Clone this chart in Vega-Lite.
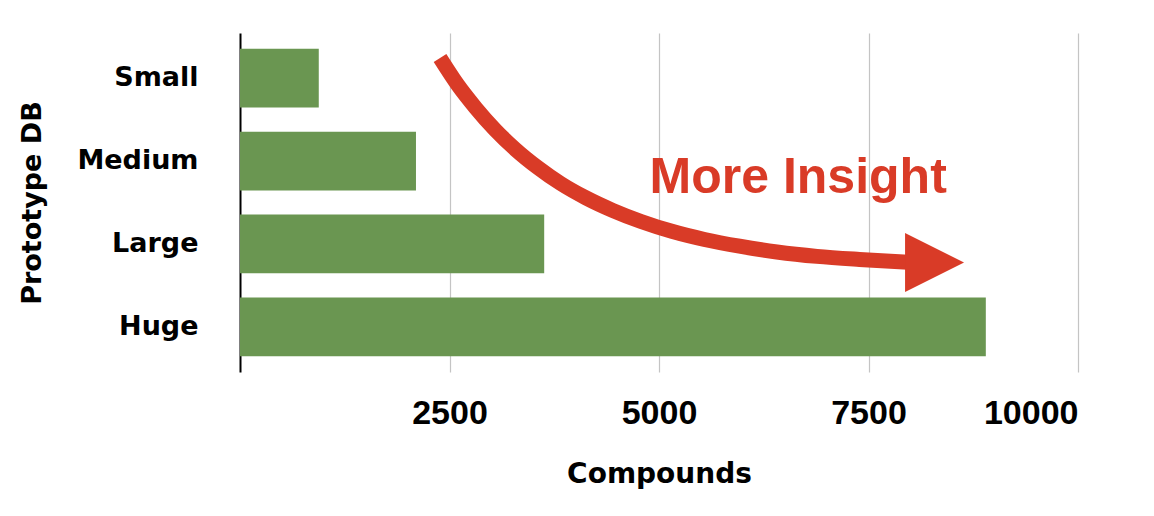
{
  "$schema": "https://vega.github.io/schema/vega-lite/v6.json",
  "width": 838,
  "height": 339,
  "autosize": {"type": "none"},
  "padding": {"left": 240, "top": 33, "right": 76, "bottom": 144},
  "background": "white",
  "config": {"view": {"stroke": null}},
  "resolve": {"scale": {"y": "independent"}, "axis": {"y": "independent"}},
  "layer": [
    {
      "data": {"values": [
        {"db": "Small", "compounds": 940},
        {"db": "Medium", "compounds": 2100},
        {"db": "Large", "compounds": 3630},
        {"db": "Huge", "compounds": 8900}
      ]},
      "mark": {"type": "bar", "color": "#6a9651"},
      "encoding": {
        "y": {
          "field": "db", "type": "nominal", "sort": ["Small", "Medium", "Large", "Huge"],
          "scale": {"paddingInner": 0.29, "paddingOuter": 0.19},
          "axis": {
            "title": "Prototype DB", "domain": true, "domainColor": "#000000", "domainWidth": 2,
            "ticks": false, "tickSize": 0, "grid": false,
            "labelFont": "DejaVu Sans", "labelFontWeight": "bold", "labelFontSize": 27, "labelColor": "#000000", "labelPadding": 42,
            "titleFont": "DejaVu Sans", "titleFontWeight": "bold", "titleFontSize": 27, "titleColor": "#000000", "titlePadding": 30
          }
        },
        "x": {
          "field": "compounds", "type": "quantitative",
          "scale": {"domain": [0, 10000], "nice": false},
          "axis": {
            "title": "Compounds", "values": [2500, 5000, 7500, 10000], "format": "d", "domain": false, "ticks": false, "tickSize": 0,
            "grid": true, "gridColor": "#c4c4c4", "gridWidth": 1.2,
            "labelFont": "Liberation Sans", "labelFontWeight": "bold", "labelFontSize": 34, "labelColor": "#000000", "labelPadding": 24,
            "titleFont": "DejaVu Sans", "titleFontWeight": "bold", "titleFontSize": 28, "titleColor": "#000000", "titlePadding": 30
          }
        }
      }
    },
    {
      "data": {"values": [
        {"x": 2387, "y": 92.6},
        {"x": 2592, "y": 84.9},
        {"x": 2813, "y": 77.9},
        {"x": 3042, "y": 71.5},
        {"x": 3286, "y": 65.7},
        {"x": 3549, "y": 60.4},
        {"x": 3827, "y": 55.6},
        {"x": 4126, "y": 51.4},
        {"x": 4445, "y": 47.7},
        {"x": 4786, "y": 44.4},
        {"x": 5153, "y": 41.5},
        {"x": 5543, "y": 39.1},
        {"x": 5961, "y": 37.1},
        {"x": 6407, "y": 35.4},
        {"x": 6885, "y": 34.1},
        {"x": 7393, "y": 33.2},
        {"x": 7971, "y": 32.4}
      ]},
      "mark": {"type": "line", "color": "#d93b27", "strokeWidth": 15, "strokeCap": "butt", "interpolate": "monotone"},
      "encoding": {
        "x": {"field": "x", "type": "quantitative"},
        "y": {"field": "y", "type": "quantitative", "scale": {"domain": [0, 100], "nice": false}, "axis": null}
      }
    },
    {
      "data": {"values": [{"x": 8288, "y": 32.3}]},
      "mark": {"type": "point", "shape": "M-1,-1L1,0L-1,1Z", "filled": true, "color": "#d93b27", "opacity": 1, "size": 3481, "strokeWidth": 0},
      "encoding": {
        "x": {"field": "x", "type": "quantitative"},
        "y": {"field": "y", "type": "quantitative", "scale": {"domain": [0, 100], "nice": false}, "axis": null}
      }
    },
    {
      "data": {"values": [{"x": 6661, "y": 52.8, "label": "More Insight"}]},
      "mark": {"type": "text", "color": "#d93b27", "font": "Liberation Sans", "fontWeight": "bold", "fontSize": 50, "align": "center", "baseline": "alphabetic"},
      "encoding": {
        "x": {"field": "x", "type": "quantitative"},
        "y": {"field": "y", "type": "quantitative", "scale": {"domain": [0, 100], "nice": false}, "axis": null},
        "text": {"field": "label"}
      }
    }
  ]
}
